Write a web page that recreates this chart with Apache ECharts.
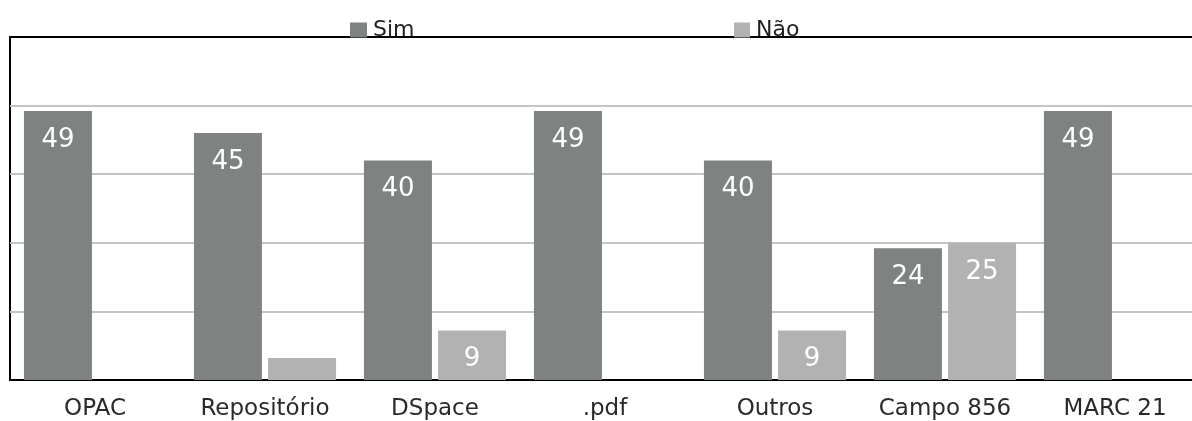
<!DOCTYPE html>
<html>
<head>
<meta charset="utf-8">
<script src="https://cdn.jsdelivr.net/npm/echarts@6/dist/echarts.min.js"></script>
<style>
  html, body { margin: 0; padding: 0; background: #fff; overflow: hidden; }
  #chart { width: 1200px; height: 421px; }
</style>
</head>
<body>
<div id="chart"></div>
<script>
var categories = ['OPAC', 'Repositório', 'DSpace', '.pdf', 'Outros', 'Campo 856', 'MARC 21'];
var simValues = [49, 45, 40, 49, 40, 24, 49];
var naoValues = [null, 4, 9, null, 9, 25, null];
var hiddenNaoLabels = [1]; // label do Repositório fica cortado no original

var chart = echarts.init(document.getElementById('chart'));

var font = 'DejaVu Sans, Arial, sans-serif';

var labelStyle = {
    show: true,
    position: 'insideTop',
    distance: 16,
    color: '#fff',
    fontSize: 26,
    fontFamily: font
};

var legendText = {
    fontSize: 22,
    color: '#222',
    fontFamily: font,
    padding: [0, 0, 0, 1]
};

var option = {
    animation: false,
    legend: [{
        left: 345,
        top: 14,
        itemWidth: 17,
        itemHeight: 15,
        icon: 'rect',
        textStyle: legendText,
        data: ['Sim']
    }, {
        left: 729,
        top: 14,
        itemWidth: 16,
        itemHeight: 15,
        icon: 'rect',
        textStyle: legendText,
        data: ['Não']
    }],
    grid: {
        left: 10,
        right: 0,
        top: 37,
        bottom: 41,
        show: true,
        borderColor: '#000',
        borderWidth: 2
    },
    xAxis: {
        type: 'category',
        data: categories,
        axisLine: { show: false },
        axisTick: { show: false },
        axisLabel: {
            interval: 0,
            hideOverlap: false,
            margin: 18,
            fontSize: 23,
            color: '#2a2a2a',
            fontFamily: font
        }
    },
    yAxis: {
        type: 'value',
        min: 0,
        max: 62.5,
        interval: 12.5,
        axisLabel: { show: false },
        axisLine: { show: false },
        axisTick: { show: false },
        splitLine: {
            showMinLine: false,
            showMaxLine: false,
            lineStyle: { color: '#c4c4c4', width: 2 }
        }
    },
    series: [{
        name: 'Sim',
        type: 'bar',
        barWidth: 68,
        barGap: '9%',
        itemStyle: { color: '#7e8280' },
        label: labelStyle,
        data: simValues
    }, {
        name: 'Não',
        type: 'bar',
        barWidth: 68,
        itemStyle: { color: '#b2b2b2' },
        label: labelStyle,
        data: naoValues.map(function (v, i) {
            if (hiddenNaoLabels.indexOf(i) >= 0) {
                return { value: v, label: { show: false } };
            }
            return v;
        })
    }]
};

chart.setOption(option);
</script>
</body>
</html>
